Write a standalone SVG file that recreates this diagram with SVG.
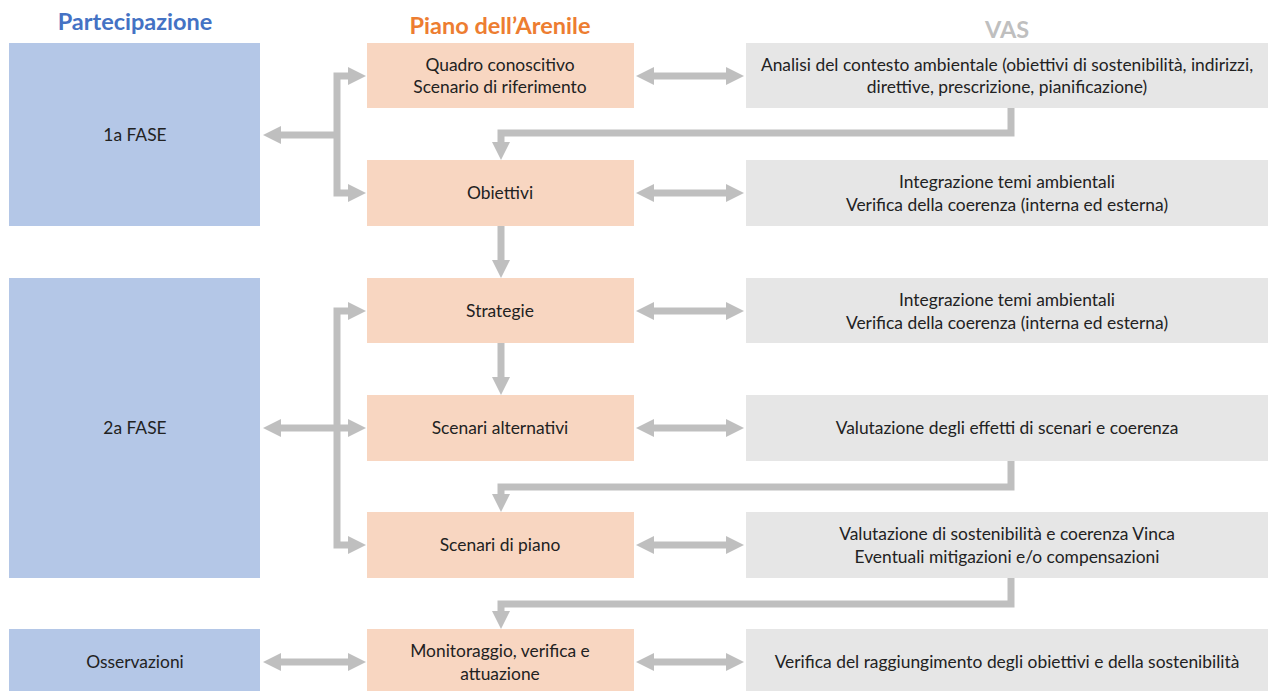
<svg xmlns="http://www.w3.org/2000/svg" width="1268" height="691" viewBox="0 0 1268 691">
<defs>
<marker id="ah" markerUnits="userSpaceOnUse" markerWidth="18" markerHeight="18" refX="0" refY="9" orient="auto-start-reverse" viewBox="0 0 18 18">
<path d="M0,0 L18,9 L0,18 z" fill="#BFBFBF"/>
</marker>
</defs>
<style>
.blue{fill:#B4C7E7}
.orange{fill:#F8D6C1}
.gray{fill:#E6E6E6}
.t{font-family:Lato,"Liberation Sans",sans-serif;font-size:17.4px;fill:#222;text-anchor:middle}
.h{font-family:Lato,"Liberation Sans",sans-serif;font-size:23.5px;font-weight:bold;text-anchor:middle}
.c{fill:none;stroke:#BFBFBF;stroke-width:7}
</style>
<rect width="1268" height="691" fill="#fff"/>
<g id="titles">
<text class="h" x="135" y="30" fill="#4472C4">Partecipazione</text>
<text class="h" x="500" y="34" fill="#ED7D31">Piano dell’Arenile</text>
<text class="h" x="1007" y="38" fill="#BFBFBF">VAS</text>
</g>
<g id="fase1"><rect class="blue" x="9" y="43" width="251" height="183"/><text class="t" x="135" y="141">1a FASE</text></g>
<g id="fase2"><rect class="blue" x="9" y="278" width="251" height="300"/><text class="t" x="135" y="434">2a FASE</text></g>
<g id="osservazioni"><rect class="blue" x="9" y="629" width="251" height="65"/><text class="t" x="135" y="668">Osservazioni</text></g>
<g id="quadro"><rect class="orange" x="367" y="43" width="267" height="65"/><text class="t" x="500" y="71">Quadro conoscitivo</text><text class="t" x="500" y="93">Scenario di riferimento</text></g>
<g id="obiettivi"><rect class="orange" x="367" y="160" width="267" height="66"/><text class="t" x="500" y="199">Obiettivi</text></g>
<g id="strategie"><rect class="orange" x="367" y="278" width="267" height="65"/><text class="t" x="500" y="317">Strategie</text></g>
<g id="scenari-alt"><rect class="orange" x="367" y="395" width="267" height="66"/><text class="t" x="500" y="434">Scenari alternativi</text></g>
<g id="scenari-piano"><rect class="orange" x="367" y="512" width="267" height="66"/><text class="t" x="500" y="551">Scenari di piano</text></g>
<g id="monitoraggio"><rect class="orange" x="367" y="629" width="267" height="65"/><text class="t" x="500" y="657">Monitoraggio, verifica e</text><text class="t" x="500" y="680">attuazione</text></g>
<g id="vas1"><rect class="gray" x="746" y="43" width="522" height="65"/><text class="t" x="1007" y="71">Analisi del contesto ambientale (obiettivi di sostenibilità, indirizzi,</text><text class="t" x="1007" y="93">direttive, prescrizione, pianificazione)</text></g>
<g id="vas2"><rect class="gray" x="746" y="160" width="522" height="66"/><text class="t" x="1007" y="188">Integrazione temi ambientali</text><text class="t" x="1007" y="211">Verifica della coerenza (interna ed esterna)</text></g>
<g id="vas3"><rect class="gray" x="746" y="278" width="522" height="65"/><text class="t" x="1007" y="306">Integrazione temi ambientali</text><text class="t" x="1007" y="329">Verifica della coerenza (interna ed esterna)</text></g>
<g id="vas4"><rect class="gray" x="746" y="395" width="522" height="66"/><text class="t" x="1007" y="434">Valutazione degli effetti di scenari e coerenza</text></g>
<g id="vas5"><rect class="gray" x="746" y="512" width="522" height="66"/><text class="t" x="1007" y="540">Valutazione di sostenibilità e coerenza Vinca</text><text class="t" x="1007" y="563">Eventuali mitigazioni e/o compensazioni</text></g>
<g id="vas6"><rect class="gray" x="746" y="629" width="522" height="65"/><text class="t" x="1007" y="668">Verifica del raggiungimento degli obiettivi e della sostenibilità</text></g>
<g id="connectors">
<path class="c" d="M654,76 H726" marker-start="url(#ah)" marker-end="url(#ah)"/>
<path class="c" d="M654,193 H726" marker-start="url(#ah)" marker-end="url(#ah)"/>
<path class="c" d="M654,311 H726" marker-start="url(#ah)" marker-end="url(#ah)"/>
<path class="c" d="M654,428 H726" marker-start="url(#ah)" marker-end="url(#ah)"/>
<path class="c" d="M654,545 H726" marker-start="url(#ah)" marker-end="url(#ah)"/>
<path class="c" d="M654,662 H726" marker-start="url(#ah)" marker-end="url(#ah)"/>
<path class="c" d="M348,76 H337 V193 H348" marker-start="url(#ah)" marker-end="url(#ah)"/>
<path class="c" d="M337,135 H281" marker-end="url(#ah)"/>
<path class="c" d="M348,311 H337 V545 H348" marker-start="url(#ah)" marker-end="url(#ah)"/>
<path class="c" d="M281,428 H348" marker-start="url(#ah)" marker-end="url(#ah)"/>
<path class="c" d="M281,662 H348" marker-start="url(#ah)" marker-end="url(#ah)"/>
<path class="c" d="M1011,108 V133 H501 V142" marker-end="url(#ah)"/>
<path class="c" d="M501,226 V260" marker-end="url(#ah)"/>
<path class="c" d="M501,343 V377" marker-end="url(#ah)"/>
<path class="c" d="M1011,461 V487 H501 V494" marker-end="url(#ah)"/>
<path class="c" d="M1011,578 V604 H501 V611" marker-end="url(#ah)"/>
</g>
</svg>
